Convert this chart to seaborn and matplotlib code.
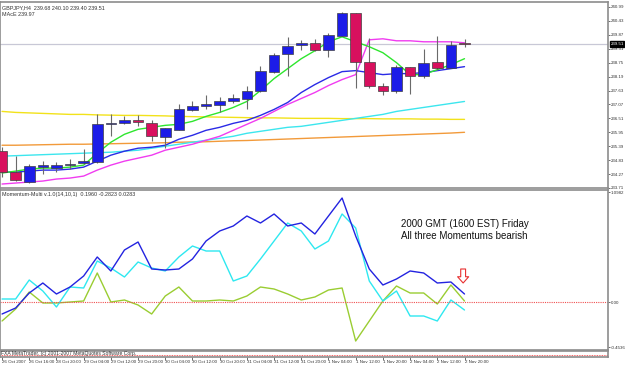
import numpy as np
import pandas as pd
import matplotlib
matplotlib.use("Agg")
import matplotlib.pyplot as plt
import seaborn as sns

# H4 bars, 26 Oct 2007 08:00 .. 2 Nov 2007 20:00
time_labels = ["26 Oct 2007", "26 Oct 16:00", "28 Oct 20:00", "29 Oct 04:00", "29 Oct 12:00",
               "29 Oct 20:00", "30 Oct 04:00", "30 Oct 12:00", "30 Oct 20:00", "31 Oct 04:00",
               "31 Oct 12:00", "31 Oct 20:00", "1 Nov 04:00", "1 Nov 12:00", "1 Nov 20:00",
               "2 Nov 04:00", "2 Nov 12:00", "2 Nov 20:00"]

opens = [235.19, 234.35, 233.95, 234.55, 234.51, 234.65, 234.71, 234.75, 236.27, 236.31,
         236.43, 236.31, 235.75, 236.03, 236.83, 236.99, 237.03, 237.19, 237.27, 237.63,
         238.39, 239.11, 239.47, 239.55, 239.27, 239.83, 240.75, 238.79, 237.83, 237.63,
         238.59, 238.23, 238.79, 238.55, 239.55]
highs = [235.35, 234.99, 234.67, 234.79, 234.75, 234.87, 235.27, 236.67, 236.67, 236.59,
         236.63, 236.43, 236.11, 237.07, 237.19, 237.47, 237.35, 237.51, 237.83, 238.63,
         239.15, 239.79, 239.67, 239.71, 239.95, 240.79, 240.75, 239.75, 237.95, 238.67,
         238.59, 239.31, 239.83, 239.63, 239.71]
lows = [234.15, 233.99, 233.91, 234.27, 234.35, 234.47, 234.67, 234.73, 235.79, 236.27,
        236.19, 235.59, 235.31, 236.03, 236.79, 236.87, 236.75, 237.11, 236.87, 237.59,
        238.35, 238.23, 239.27, 239.23, 238.99, 239.83, 237.75, 237.75, 237.43, 237.55,
        237.51, 238.15, 238.47, 238.55, 239.39]
closes = [234.35, 234.03, 234.59, 234.63, 234.63, 234.67, 234.79, 236.27, 236.31, 236.43,
          236.35, 235.79, 236.11, 236.87, 236.99, 237.07, 237.19, 237.31, 237.63, 238.43,
          239.07, 239.43, 239.55, 239.27, 239.87, 240.75, 238.79, 237.83, 237.63, 238.59,
          238.23, 238.75, 238.55, 239.47, 239.51]

ma_green = [234.31, 234.39, 234.47, 234.51, 234.51, 234.55, 234.63, 235.11, 235.55, 235.87,
            236.07, 236.15, 236.23, 236.27, 236.39, 236.59, 236.75, 236.95, 237.19, 237.63,
            238.11, 238.51, 238.91, 239.23, 239.59, 239.79, 239.59, 239.39, 239.15, 238.75,
            238.27, 238.27, 238.47, 238.67, 238.91]
ma_blue = [234.35, 234.35, 234.39, 234.43, 234.43, 234.47, 234.55, 234.79, 235.03, 235.19,
           235.31, 235.35, 235.43, 235.67, 235.83, 236.03, 236.15, 236.31, 236.43, 236.63,
           236.87, 237.15, 237.55, 237.87, 238.15, 238.39, 238.43, 238.35, 238.27, 238.31,
           238.31, 238.35, 238.43, 238.51, 238.59]
ma_magenta = [233.87, 233.91, 233.95, 233.99, 234.07, 234.11, 234.19, 234.43, 234.63, 234.79,
              234.91, 235.03, 235.23, 235.35, 235.47, 235.63, 235.79, 236.03, 236.27, 236.51,
              236.79, 237.07, 237.31, 237.55, 237.83, 238.07, 238.27, 239.67, 239.71, 239.63,
              239.63, 239.59, 239.59, 239.59, 239.55]
ma_cyan = [234.99, 235.01, 235.03, 235.05, 235.07, 235.09, 235.11, 235.13, 235.15, 235.19,
           235.23, 235.31, 235.39, 235.47, 235.55, 235.63, 235.71, 235.79, 235.91, 235.99,
           236.07, 236.15, 236.19, 236.27, 236.35, 236.43, 236.51, 236.59, 236.67, 236.79,
           236.87, 236.95, 237.03, 237.11, 237.19]
ma_yellow = [236.79, 236.75, 236.73, 236.71, 236.69, 236.67, 236.67, 236.65, 236.64, 236.63,
             236.63, 236.62, 236.61, 236.59, 236.58, 236.57, 236.56, 236.55, 236.54, 236.53,
             236.53, 236.52, 236.51, 236.51, 236.51, 236.50, 236.50, 236.50, 236.49, 236.49,
             236.49, 236.48, 236.48, 236.47, 236.47]
ma_orange = [235.43, 235.43, 235.44, 235.45, 235.46, 235.47, 235.47, 235.48, 235.49, 235.50,
             235.51, 235.52, 235.53, 235.55, 235.56, 235.57, 235.59, 235.61, 235.62, 235.64,
             235.66, 235.68, 235.70, 235.72, 235.74, 235.76, 235.78, 235.80, 235.82, 235.84,
             235.86, 235.88, 235.90, 235.92, 235.95]

mom_blue = [-0.12, -0.06, 0.09, 0.19, 0.08, 0.15, 0.26, 0.45, 0.31, 0.52, 0.60, 0.33,
            0.32, 0.33, 0.43, 0.61, 0.71, 0.76, 0.86, 0.79, 0.88, 0.76, 0.79, 0.68,
            0.86, 1.04, 0.66, 0.33, 0.17, 0.23, 0.31, 0.29, 0.19, 0.20, 0.08]
mom_cyan = [0.03, 0.03, 0.22, 0.11, -0.05, 0.15, 0.14, 0.41, 0.34, 0.25, 0.40, 0.34,
            0.31, 0.45, 0.56, 0.51, 0.51, 0.21, 0.26, 0.43, 0.61, 0.79, 0.71, 0.53,
            0.61, 0.88, 0.74, 0.21, 0.01, 0.11, -0.14, -0.14, -0.19, 0.02, -0.08]
mom_olive = [-0.19, -0.07, 0.10, -0.01, -0.01, 0.00, 0.01, 0.29, 0.00, 0.02, -0.03, -0.12,
             0.06, 0.15, 0.01, 0.01, 0.02, 0.01, 0.06, 0.15, 0.13, 0.08, 0.02, 0.05,
             0.12, 0.14, -0.39, -0.19, 0.01, 0.16, 0.09, 0.09, -0.02, 0.17, 0.01]

price_ticks = [240.99, 240.43, 239.87, 239.31, 238.75, 238.19, 237.63, 237.07, 236.51,
               235.95, 235.39, 234.83, 234.27, 233.71]
last_price = 239.51
mom_ticks = [1.0982, 0.0, -0.4536]
mom_tick_labels = ["1.0982", "0.00", "-0.4536"]

sns.set_style("white")
plt.rcParams["font.family"] = ["Liberation Sans", "DejaVu Sans"]

n = len(closes)
df = pd.DataFrame({"bar": np.arange(n), "open": opens, "high": highs, "low": lows, "close": closes})
bull = df["close"] >= df["open"]

fig = plt.figure(figsize=(6.25, 3.65), dpi=100)
W = 608 / 625
ax = fig.add_axes([0.0, 177 / 365, W, 186 / 365])
ax2 = fig.add_axes([0.0, 15 / 365, W, 160 / 365])
ax3 = fig.add_axes([0.0, 8 / 365, W, 6 / 365])

frame = "#8c8c8c"
small = 3.2
for a in (ax, ax2, ax3):
    a.set_facecolor("white")
    for s in a.spines.values():
        s.set_color(frame)
        s.set_linewidth(1.2)
    a.set_xlim(-0.15, 44.55)
    a.set_xticks([])
    a.yaxis.tick_right()
    a.tick_params(axis="y", labelsize=small, length=1.5, width=0.5, colors="#333333", pad=0.6)

# moving averages
ma_df = pd.DataFrame({"bar": np.arange(n), "yellow": ma_yellow, "orange": ma_orange, "cyan": ma_cyan,
                      "magenta": ma_magenta, "blue": ma_blue, "green": ma_green})
ma_cols = {"yellow": "#f2e21a", "orange": "#f29a3a", "cyan": "#3ce6ee",
           "magenta": "#f03cf0", "blue": "#2a2ae6", "green": "#2ee62e"}
for name, col in ma_cols.items():
    sns.lineplot(data=ma_df, x="bar", y=name, ax=ax, color=col, linewidth=1.0)

# candles
ax.vlines(df["bar"], df["low"], df["high"], color="#6a6a6a", linewidth=0.8, zorder=3)
body_lo = np.minimum(df["open"], df["close"])
body_h = np.maximum((df["close"] - df["open"]).abs(), 0.02)
colors = np.where(bull, "#1c1ce8", "#d8105e")
ax.bar(df["bar"], body_h, bottom=body_lo, width=0.78, color=colors, edgecolor="#404040",
       linewidth=0.5, zorder=4)

ax.axhline(last_price, color="#c8c8d6", linewidth=0.9, zorder=1)
ax.set_ylim(233.75, 241.19)
ax.set_yticks(price_ticks)
ax.set_yticklabels([f"{v:.2f}" for v in price_ticks])
ax.set_xlabel("")
ax.set_ylabel("")
ax.text(1.004, (last_price - 233.75) / (241.19 - 233.75), f"{last_price:.2f}", transform=ax.transAxes,
        fontsize=small, color="white", va="center", ha="left",
        bbox=dict(boxstyle="square,pad=0.15", fc="black", ec="black"))
ax.text(0.004, 0.985, "GBPJPY,H4  239.68 240.10 239.40 239.51", transform=ax.transAxes,
        fontsize=3.9, va="top", color="#333333")
ax.text(0.004, 0.945, "MAcE 239.97", transform=ax.transAxes, fontsize=3.9, va="top", color="#333333")

# momentum panel
mom_df = pd.DataFrame({"bar": np.arange(n), "blue": mom_blue, "cyan": mom_cyan, "olive": mom_olive})
sns.lineplot(data=mom_df, x="bar", y="olive", ax=ax2, color="#9acd32", linewidth=1.0)
sns.lineplot(data=mom_df, x="bar", y="cyan", ax=ax2, color="#2ee8f0", linewidth=1.0)
sns.lineplot(data=mom_df, x="bar", y="blue", ax=ax2, color="#2323e0", linewidth=1.0)
ax2.axhline(0, color="#f05050", linewidth=0.8, linestyle=(0, (1, 1)))
ax2.set_ylim(-0.48, 1.12)
ax2.set_yticks(mom_ticks)
ax2.set_yticklabels(mom_tick_labels)
ax2.set_xlabel("")
ax2.set_ylabel("")
ax2.text(0.004, 0.985, "Momentum-Multi v.1.0(14,10,1)  0.1960 -0.2823 0.0283", transform=ax2.transAxes,
         fontsize=3.9, va="top", color="#333333")
ax2.text(34.0, 0.72, "2000 GMT (1600 EST) Friday\nAll three Momentums bearish", fontsize=7,
         ha="center", va="center", linespacing=1.35, color="#111111")
ax2.annotate("", xy=(33.9, 0.19), xytext=(33.9, 0.33),
             arrowprops=dict(arrowstyle="simple,head_width=0.8,head_length=0.45,tail_width=0.35",
                             fc="white", ec="#e83030", lw=0.8, shrinkA=0, shrinkB=0))

# bottom strip
ax3.set_ylim(0, 1)
ax3.set_yticks([])
ax3.axhline(0.3, color="#f03030", linewidth=0.6, linestyle=(0, (1, 1)))
ax3.text(0.002, 0.6, "FXA MetaTrader, (c) 2001-2007 MetaQuotes Software Corp.", transform=ax3.transAxes,
         fontsize=3.6, va="center", color="#333333")

# time axis: a label every 2 bars
ax3.set_xticks(np.arange(0, n, 2))
ax3.set_xticklabels(time_labels, ha="left")
ax3.tick_params(axis="x", labelsize=small, length=2, width=0.5, colors="#333333", pad=0.5,
                bottom=True)

fig.savefig("out.png", dpi=100)
